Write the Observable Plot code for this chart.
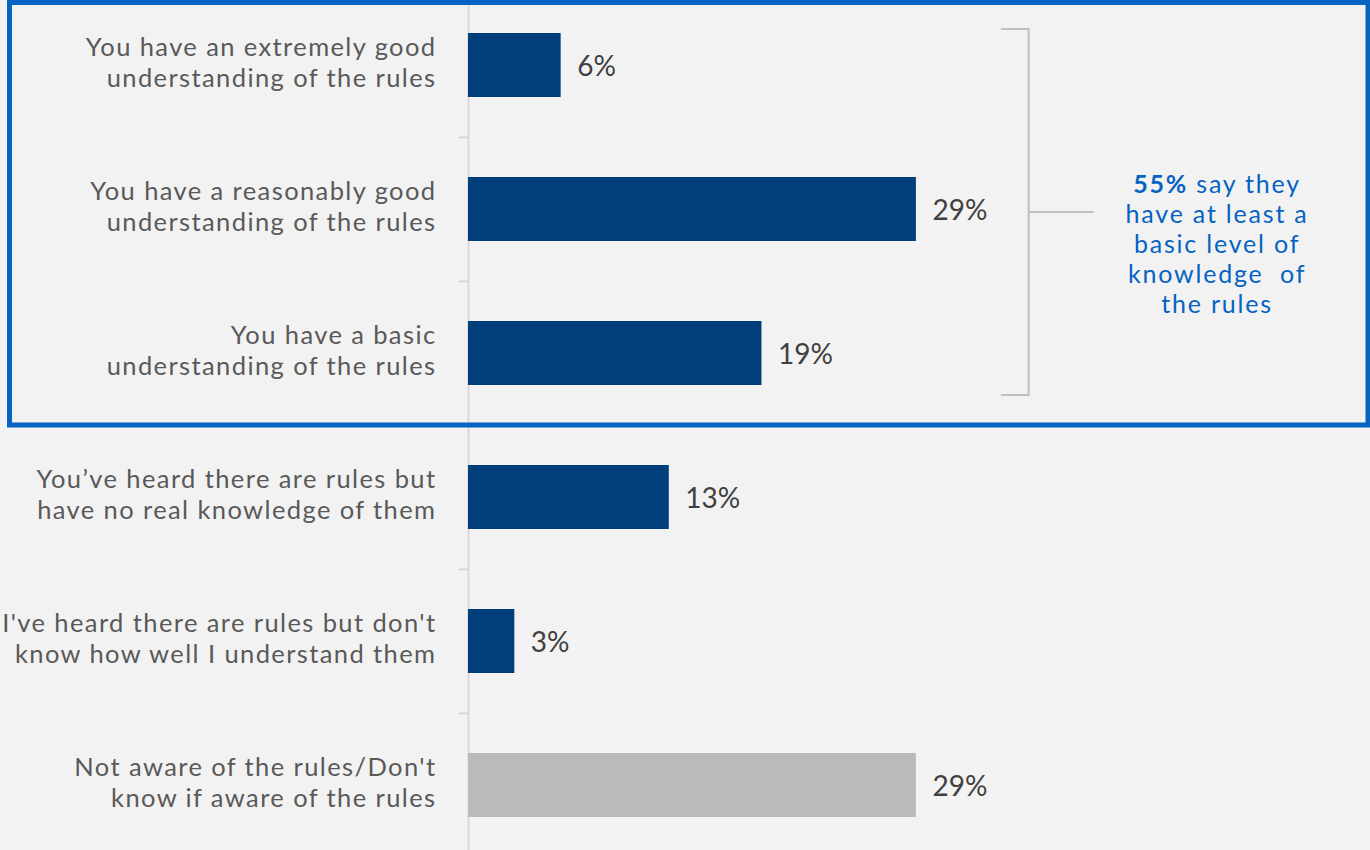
<!DOCTYPE html>
<html><head><meta charset="utf-8">
<script src="https://cdn.jsdelivr.net/npm/d3@7"></script>
<script src="https://cdn.jsdelivr.net/npm/@observablehq/plot@0.6"></script>
<style>
body{margin:0;background:#f2f2f2;}
#chart{width:1370px;height:850px;}
</style>
</head><body><div id="chart"></div>
<script>
const categories = [
  "You have an extremely good understanding of the rules",
  "You have a reasonably good understanding of the rules",
  "You have a basic understanding of the rules",
  "You’ve heard there are rules but have no real knowledge of them",
  "I've heard there are rules but don't know how well I understand them",
  "Not aware of the rules/Don't know if aware of the rules"
];
const labels = [
  "You have an extremely good\nunderstanding of the rules",
  "You have a reasonably good\nunderstanding of the rules",
  "You have a basic\nunderstanding of the rules",
  "You’ve heard there are rules but\nhave no real knowledge of them",
  "I've heard there are rules but don't\nknow how well I understand them",
  "Not aware of the rules/Don't\nknow if aware of the rules"
];
const values = [6, 29, 19, 13, 3, 29];
const barColors = ["#003f7c", "#003f7c", "#003f7c", "#003f7c", "#003f7c", "#bababa"];
const annotationBold = "55%";
const annotationLines = [" say they", "have at least a", "basic level of", "knowledge  of", "the rules"];
const groupedCategories = categories.slice(0, 3);

const data = categories.map((c, i) => ({cat: c, label: labels[i], value: values[i], color: barColors[i]}));

const font = "Lato, 'Open Sans', sans-serif";
const labelColor = "#595959";
const plot = Plot.plot({
  width: 1370, height: 850, margin: 0,
  style: {background: "#f2f2f2", fontFamily: font, overflow: "visible"},
  x: {domain: [-30.3, 58.4], axis: null},
  y: {domain: categories, range: [-7, 857], paddingInner: 0.5556, paddingOuter: 0.2778, axis: null},
  color: {type: "identity"},
  marks: [
    Plot.ruleX([0], {stroke: "#d9d9d9", strokeWidth: 2}),
    Plot.ruleY(data.slice(1), {y: "cat", x1: -0.62, x2: 0, dy: -72, stroke: "#d9d9d9", strokeWidth: 2}),
    Plot.barX(data, {x: "value", y: "cat", fill: "color"}),
    Plot.text(data, {x: "value", y: "cat", text: d => d.value + "%", textAnchor: "start", dx: 16, dy: 2, fontSize: 28, fill: "#404040"}),
    Plot.text(data, {x: 0, y: "cat", text: "label", textAnchor: "end", dx: -32, dy: -4, fontSize: 25.5, lineHeight: 1.2, fill: labelColor})
  ]
});
document.getElementById("chart").appendChild(plot);

const svg = d3.select(plot);
// widen the category labels slightly (Calibri-like spread)
svg.selectAll("g").filter(function() { return this.getAttribute("fill") === labelColor; })
  .attr("letter-spacing", "1.4px");

// Annotations derived from the plot's scales
const xs = plot.scale("x"), ys = plot.scale("y");
const bw = ys.bandwidth;
const g = svg.append("g");
const yTop = ys.apply(groupedCategories[0]) - 4;
const yBot = ys.apply(groupedCategories[2]) + bw + 10;
const yMid = (yTop + yBot) / 2;
const xBr = xs.apply(36.3);
g.append("path")
  .attr("d", `M${xs.apply(34.5)},${yTop}H${xBr}V${yBot}H${xs.apply(34.5)}M${xBr},${yMid}H${xs.apply(40.5)}`)
  .attr("fill", "none").attr("stroke", "#bfbfbf").attr("stroke-width", 2);

// Blue box around the first three categories
const boxBottom = (ys.apply(categories[2]) + bw + ys.apply(categories[3])) / 2;
g.append("rect")
  .attr("x", 9.5).attr("y", 2.5)
  .attr("width", 1368 - 9.5).attr("height", boxBottom - 2.5)
  .attr("fill", "none").attr("stroke", "#0563c1").attr("stroke-width", 5);

const xText = xs.apply(48.5);
const t = g.append("text").attr("text-anchor", "middle").attr("fill", "#0563c1")
  .attr("font-size", 25).attr("letter-spacing", "1.8px").attr("font-family", font);
const lineStep = 30;
const firstY = yMid - 19;
const l1 = t.append("tspan").attr("x", xText).attr("y", firstY);
l1.append("tspan").attr("font-weight", "bold").text(annotationBold);
l1.append("tspan").text(annotationLines[0]);
annotationLines.slice(1).forEach((s, i) => {
  t.append("tspan").attr("x", xText).attr("y", firstY + (i + 1) * lineStep).text(s);
});
</script>
</body></html>
